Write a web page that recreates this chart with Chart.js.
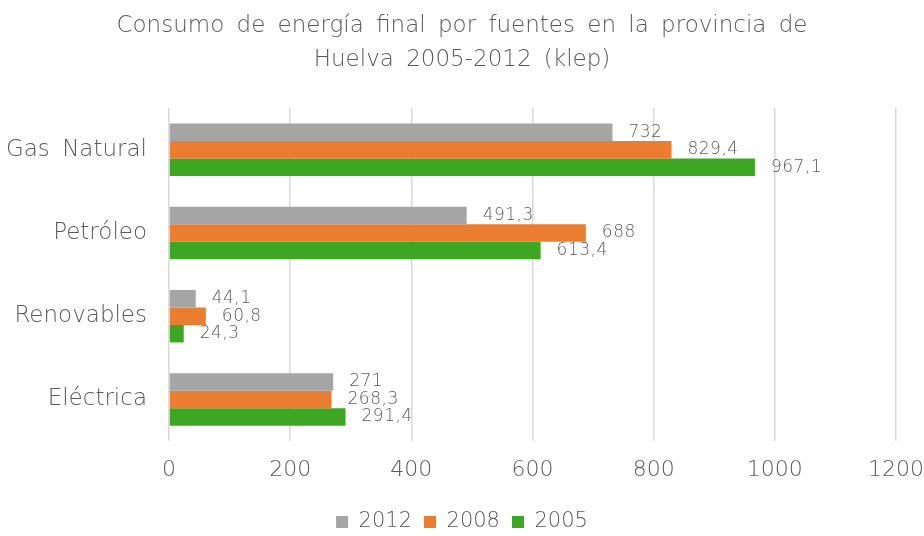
<!DOCTYPE html>
<html>
<head>
    <meta charset="utf-8">
    <title>Consumo de energía final Huelva</title>
    <script src="https://cdn.jsdelivr.net/npm/chart.js"></script>
    <style>
        body { margin: 0; background: #fff; }
        #wrap { width: 924px; height: 536px; }
    </style>
</head>
<body>
<div id="wrap"><canvas id="energiaChart" width="924" height="536"></canvas></div>
<script>
    const fuentes = ["Gas Natural", "Petróleo", "Renovables", "Eléctrica"];
    const anios = ["2012", "2008", "2005"];
    const datos2012 = [732, 491.3, 44.1, 271];
    const datos2008 = [829.4, 688, 60.8, 268.3];
    const datos2005 = [967.1, 613.4, 24.3, 291.4];
    const colores = ["#A5A5A5", "#EB7D31", "#3DA623"];
    const ticksX = [0, 200, 400, 600, 800, 1000, 1200];

    const fuente = "'DejaVu Sans', sans-serif";
    const gris = "#595959";

    // el título original tiene los espacios muy anchos
    const espaciado = {
        id: 'espaciado',
        beforeLayout(chart) { chart.ctx.wordSpacing = "5px"; },
        beforeDraw(chart) { chart.ctx.wordSpacing = "5px"; }
    };

    // etiquetas de valor a la derecha de cada barra
    const etiquetas = {
        id: 'etiquetas',
        afterDatasetsDraw(chart) {
            const ctx = chart.ctx;
            ctx.save();
            ctx.font = "200 17px " + fuente;
            ctx.letterSpacing = "0.5px";
            ctx.fillStyle = gris;
            ctx.textAlign = "left";
            ctx.textBaseline = "middle";
            chart.data.datasets.forEach((ds, i) => {
                chart.getDatasetMeta(i).data.forEach((bar, j) => {
                    let txt = String(ds.data[j]).replace('.', ',');
                    ctx.fillText(txt, bar.x + 16, bar.y);
                });
            });
            ctx.restore();
        }
    };

    new Chart(document.getElementById("energiaChart"), {
        type: 'bar',
        data: {
            labels: fuentes,
            datasets: [
                { label: anios[0], data: datos2012, backgroundColor: colores[0] },
                { label: anios[1], data: datos2008, backgroundColor: colores[1] },
                { label: anios[2], data: datos2005, backgroundColor: colores[2] }
            ]
        },
        options: {
            indexAxis: 'y',
            responsive: false,
            animation: false,
            layout: { padding: { left: 0, right: 0, top: 0, bottom: -6.5 } },
            datasets: { bar: { categoryPercentage: 0.63, barPercentage: 1.0 } },
            scales: {
                x: {
                    min: 0, max: 1200,
                    afterBuildTicks: s => { s.ticks = ticksX.map(v => ({ value: v })); },
                    afterFit: s => { s.paddingRight = 28; },
                    grid: { color: "#D9D9D9", lineWidth: 1.5, drawTicks: false },
                    border: { display: false },
                    ticks: {
                        color: gris, padding: 16,
                        font: { family: fuente, size: 22, weight: 200 },
                        callback: v => String(v)
                    }
                },
                y: {
                    afterFit: s => { s.width = 169; },
                    grid: { display: false },
                    border: { display: false },
                    ticks: { color: gris, padding: 14, font: { family: fuente, size: 23, weight: 200 } }
                }
            },
            plugins: {
                title: {
                    display: true,
                    text: ["Consumo de energía final por fuentes en la provincia de", "Huelva 2005-2012 (klep)"],
                    color: gris,
                    font: { family: fuente, size: 23, weight: 200, lineHeight: 1.48 },
                    padding: { top: 9, bottom: 31 }
                },
                legend: {
                    position: 'bottom',
                    labels: {
                        color: gris,
                        boxWidth: 12, boxHeight: 12,
                        padding: 12,
                        font: { family: fuente, size: 21, weight: 200 }
                    }
                },
                tooltip: { enabled: false }
            }
        },
        plugins: [espaciado, etiquetas]
    });
</script>
</body>
</html>
